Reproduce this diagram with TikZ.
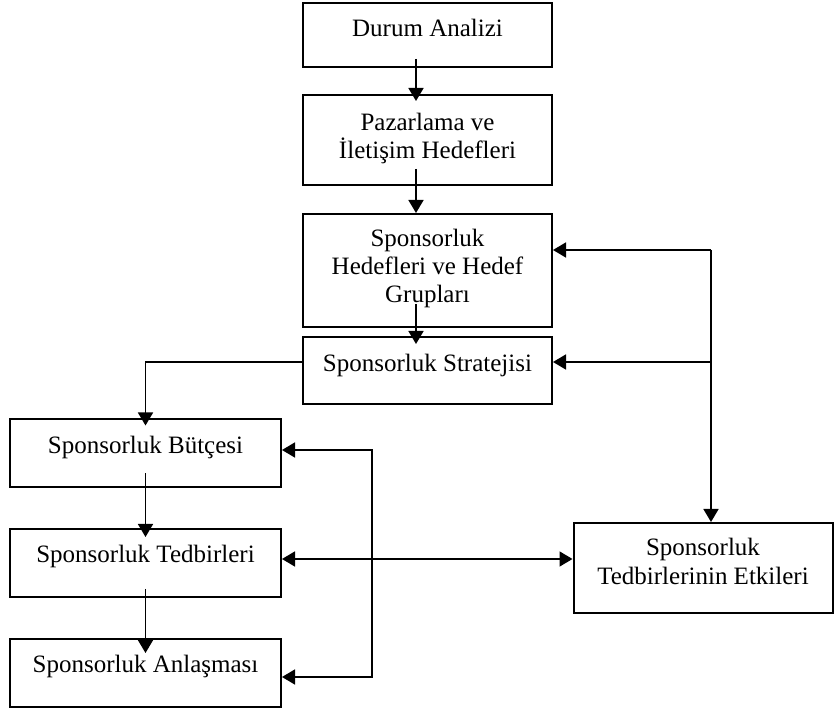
\documentclass[tikz,border=0pt]{standalone}
\usepackage{fontspec}
\setmainfont{Liberation Serif}
\usetikzlibrary{arrows.meta}

\begin{document}
\begin{tikzpicture}[x=0.5pt,y=-0.5pt,line width=0.8pt,
  flowbox/.style={draw,line width=1pt,align=center,inner sep=0pt,
    font=\fontsize{12.5}{14}\selectfont,text height=8pt},
  midbox/.style={flowbox,minimum width=124.5pt},
  leftbox/.style={flowbox,minimum width=135.5pt,minimum height=34pt},
  arr/.style={-{Triangle[length=6.5pt,width=7.5pt]}},
  arrboth/.style={{Triangle[length=6.5pt,width=7.5pt]}-{Triangle[length=6.5pt,width=7.5pt]}}]
\useasboundingbox (0,0) rectangle (835,710);
% middle column
\node[midbox,minimum height=32pt,text depth=6pt] (durum) at (427.5,35) {Durum Analizi};
\node[midbox,minimum height=45pt,text height=22pt,text depth=3pt] (pazar) at (427.5,140) {Pazarlama ve\\ İletişim Hedefleri};
\node[midbox,minimum height=56.5pt,text height=36pt,text depth=3.5pt] (hedef) at (427.5,270.5) {Sponsorluk\\ Hedefleri ve Hedef\\ Grupları};
\node[midbox,minimum height=33.5pt,text depth=6.5pt] (strat) at (427.5,370.5) {Sponsorluk Stratejisi};
% left column
\node[leftbox,text depth=7.5pt] (butce) at (145.5,453.5) {Sponsorluk Bütçesi};
\node[leftbox,text depth=8pt] (tedbir) at (145.5,563) {Sponsorluk Tedbirleri};
\node[leftbox,text depth=9pt] (anlasma) at (145.5,673) {Sponsorluk Anlaşması};
% right
\node[flowbox,minimum width=129.5pt,minimum height=45pt,text height=22pt,text depth=6pt] (etki) at (703,568) {Sponsorluk\\ Tedbirlerinin Etkileri};
%
\draw[arr] ([xshift=-5.75pt,yshift=4.5pt]durum.south) -- ([xshift=-5.75pt,yshift=-3.5pt]pazar.north);
\draw[arr] ([xshift=-5.75pt,yshift=8.5pt]pazar.south) -- ([xshift=-5.75pt]hedef.north);
\draw[arr] ([xshift=-5.75pt,yshift=12pt]hedef.south) -- ([xshift=-5.75pt,yshift=-4pt]strat.north);
\draw[arr] ([yshift=4.25pt]strat.west) -| ([yshift=-3.5pt]butce.north);
\draw[arr] ([yshift=7.5pt]butce.south) -- ([yshift=-4.5pt]tedbir.north);
\draw[arr] ([yshift=4.5pt]tedbir.south) -- ([yshift=-7.5pt]anlasma.north);
%
\coordinate (tl) at ([yshift=2pt]tedbir.east);
\draw[arrboth] (tl) -- (tl -| etki.west);
\coordinate (fb) at ([xshift=45pt]tl);
\draw[arr] (fb) |- ([yshift=1.75pt]butce.east);
\draw[arr] (fb) |- ([yshift=-2pt]anlasma.east);
%
\coordinate (rt) at ([xshift=79pt,yshift=10.25pt]hedef.east);
\coordinate (sl) at ([yshift=4.25pt]strat.east);
\draw[arr] (rt) -- ([yshift=10.25pt]hedef.east);
\draw[arr] (rt |- sl) -- (sl);
\draw[arr] (rt) -- (rt |- etki.north);
\end{tikzpicture}
\end{document}
